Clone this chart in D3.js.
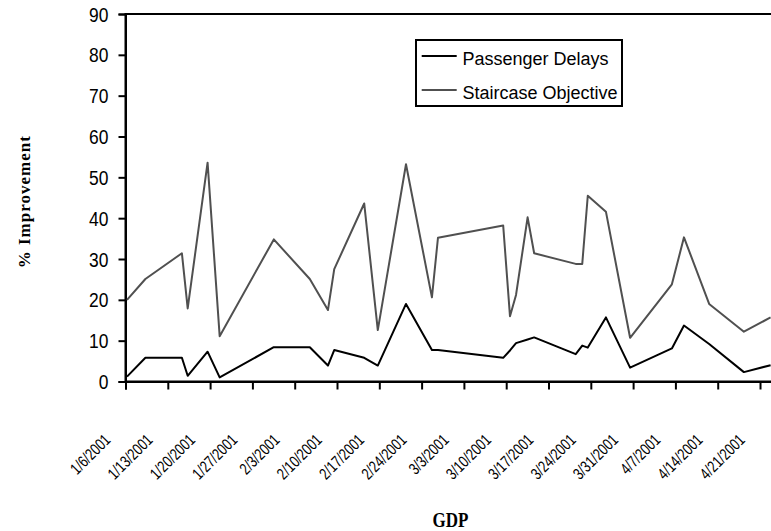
<!DOCTYPE html>
<html>
<head>
<meta charset="utf-8">
<script src="https://cdn.jsdelivr.net/npm/d3@7"></script>
<style>
  html, body { margin: 0; padding: 0; background: #fff; }
  svg { display: block; }
</style>
</head>
<body>
<svg id="chart" width="771" height="531"></svg>
<script>
// GDP event timestamps
const gdpTimes = [
  "2001-01-06T06:00", "2001-01-09T07:00", "2001-01-15T08:00", "2001-01-16T07:00",
  "2001-01-19T14:00", "2001-01-21T14:00", "2001-01-30T13:00", "2001-02-05T12:00",
  "2001-02-08T12:00", "2001-02-09T13:00", "2001-02-14T12:00", "2001-02-16T18:00",
  "2001-02-21T10:00", "2001-02-25T17:00", "2001-02-26T17:00", "2001-03-09T12:00",
  "2001-03-10T15:00", "2001-03-11T15:00", "2001-03-13T13:00", "2001-03-14T15:00",
  "2001-03-21T12:00", "2001-03-22T14:00", "2001-03-23T12:00", "2001-03-26T12:00",
  "2001-03-30T12:00", "2001-04-06T10:00", "2001-04-08T10:00", "2001-04-12T14:00",
  "2001-04-18T08:00", "2001-04-22T18:00"
];

// % improvement, passenger delays
const passengerDelays = [
  1.2, 5.8, 5.8, 1.4, 7.3, 1.0, 8.4, 8.4, 3.9, 7.7,
  5.8, 3.9, 19.0, 7.7, 7.7, 5.8, 7.6, 9.4, 10.3, 10.8,
  6.7, 8.8, 8.3, 15.7, 3.4, 8.1, 13.7, 9.2, 2.3, 4.0
];

// % improvement, staircase objective
const staircaseObjective = [
  20.0, 25.1, 31.4, 17.9, 53.6, 11.1, 34.8, 25.1, 17.5, 27.5,
  43.6, 12.6, 53.2, 20.6, 35.2, 38.2, 16.0, 21.2, 40.2, 31.4,
  28.8, 28.8, 45.5, 41.6, 10.7, 23.8, 35.3, 19.0, 12.2, 15.7
];

const seriesNames = ["Passenger Delays", "Staircase Objective"];
const seriesColors = ["#000000", "#505050"];

const weekLabels = [
  "1/6/2001", "1/13/2001", "1/20/2001", "1/27/2001", "2/3/2001", "2/10/2001",
  "2/17/2001", "2/24/2001", "3/3/2001", "3/10/2001", "3/17/2001", "3/24/2001",
  "3/31/2001", "4/7/2001", "4/14/2001", "4/21/2001"
];
const yTicks = [0, 10, 20, 30, 40, 50, 60, 70, 80, 90];
const xDomain = ["2001-01-06T00:00", "2001-04-23T00:00"];

const parseTime = d3.timeParse("%Y-%m-%dT%H:%M");
const parseLabel = d3.timeParse("%m/%d/%Y");

const svg = d3.select("#chart");
const plot = { left: 125.5, top: 14, bottom: 381.5, right: 772.1 };

const x = d3.scaleTime()
  .domain(xDomain.map(parseTime))
  .range([plot.left, plot.right]);
const y = d3.scaleLinear()
  .domain([0, 90])
  .range([plot.bottom, plot.top]);

const rows = gdpTimes.map((t, i) => ({
  t: parseTime(t),
  values: [passengerDelays[i], staircaseObjective[i]]
}));

// plot area frame
svg.append("rect")
  .attr("x", plot.left).attr("y", plot.top)
  .attr("width", plot.right - plot.left + 10)
  .attr("height", plot.bottom - plot.top)
  .attr("fill", "none").attr("stroke", "#000").attr("stroke-width", 2);

// y axis
const yAxis = d3.axisLeft(y).tickValues(yTicks).tickSize(7).tickFormat("");
const gy = svg.append("g").attr("transform", `translate(${plot.left},0)`).call(yAxis);
gy.select(".domain").attr("stroke-width", 2);
gy.selectAll(".tick line").attr("stroke-width", 2);
svg.append("g").selectAll("text").data(yTicks).join("text")
  .attr("transform", d => `translate(108.5,${y(d)}) scale(0.83,1)`)
  .attr("text-anchor", "end")
  .attr("dy", "0.36em")
  .style("font-family", "'Liberation Sans', Arial, sans-serif")
  .style("font-size", "21px")
  .attr("fill", "#000")
  .text(d => d);

// x axis
const weekDates = weekLabels.map(parseLabel);
const xAxis = d3.axisBottom(x).tickValues(weekDates).tickSize(8).tickFormat("");
const gx = svg.append("g").attr("transform", `translate(0,${plot.bottom})`).call(xAxis);
gx.select(".domain").attr("stroke-width", 2);
gx.selectAll(".tick line").attr("stroke-width", 2);
svg.append("g").selectAll("text").data(weekLabels).join("text")
  .attr("transform", (d, i) => `translate(${x(weekDates[i]) - 14},441) rotate(-45) scale(0.76,1)`)
  .attr("text-anchor", "end")
  .style("font-family", "'Liberation Sans', Arial, sans-serif")
  .style("font-size", "16.5px")
  .attr("fill", "#000")
  .text(d => d);

// series lines
const line = k => d3.line()
  .x(d => x(d.t))
  .y(d => y(d.values[k]));

svg.append("g").selectAll("path")
  .data([1, 0])
  .join("path")
  .attr("d", k => line(k)(rows))
  .attr("fill", "none")
  .attr("stroke", k => seriesColors[k])
  .attr("stroke-width", 2)
  .attr("stroke-linejoin", "round");

// axis titles
svg.append("text")
  .attr("transform", "translate(29.6,201.7) rotate(-90)")
  .attr("text-anchor", "middle")
  .style("font-family", "'Liberation Serif', 'Times New Roman', serif")
  .style("font-weight", "bold")
  .style("font-size", "17px")
  .style("letter-spacing", "1px")
  .text("% Improvement");

svg.append("text")
  .attr("transform", "translate(450.5,527) scale(0.85,1)")
  .attr("text-anchor", "middle")
  .style("font-family", "'Liberation Serif', 'Times New Roman', serif")
  .style("font-weight", "bold")
  .style("font-size", "20px")
  .text("GDP");

// legend
const legend = svg.append("g");
legend.append("rect")
  .attr("x", 416).attr("y", 40).attr("width", 206).attr("height", 66)
  .attr("fill", "#fff").attr("stroke", "#000").attr("stroke-width", 2);
const items = legend.selectAll("g.item").data(seriesNames).join("g")
  .attr("class", "item")
  .attr("transform", (d, i) => `translate(0,${56 + i * 34})`);
items.append("line")
  .attr("x1", 421.7).attr("x2", 456.7)
  .attr("stroke", (d, i) => seriesColors[i])
  .attr("stroke-width", 2);
items.append("text")
  .attr("x", 462.5).attr("y", 9)
  .style("font-family", "'Liberation Sans', Arial, sans-serif")
  .style("font-size", "18px")
  .text(d => d);
</script>
</body>
</html>
